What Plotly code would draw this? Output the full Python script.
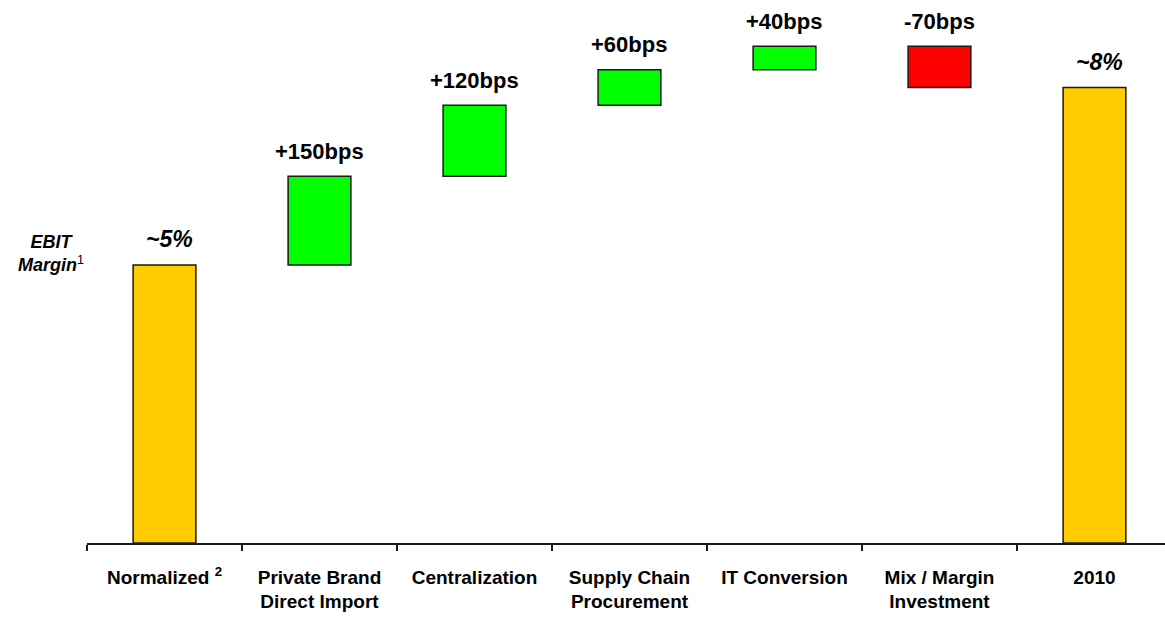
import plotly.graph_objects as go

# Margin bridge: starting level, drivers in basis points, ending level
categories = ["Normalized <sup>2</sup>", "Private Brand<br>Direct Import", "Centralization",
              "Supply Chain<br>Procurement", "IT Conversion", "Mix / Margin<br>Investment", "2010"]
start_margin = 4.7          # EBIT margin, %
driver_bps = [150, 120, 60, 40, -70]

GOLD, GREEN, RED = "#FFCC00", "#00FF00", "#FF0000"
FONT = "Liberation Sans, Arial, sans-serif"

# Build floating bars: base + height for every column
bases, heights, colors, labels = [], [], [], []
level = start_margin
bases.append(0); heights.append(start_margin); colors.append(GOLD)
labels.append(f"~{round(start_margin)}%")
for bps in driver_bps:
    delta = bps / 100.0
    bases.append(min(level, level + delta))
    heights.append(abs(delta))
    colors.append(GREEN if delta > 0 else RED)
    labels.append(f"{bps:+d}bps")
    level += delta
end_margin = level
bases.append(0); heights.append(end_margin); colors.append(GOLD)
labels.append(f"~{round(end_margin)}%")

xs = list(range(len(categories)))

fig = go.Figure(go.Bar(
    x=xs, y=heights, base=bases, width=0.405,
    marker=dict(color=colors, line=dict(color="#1a1a1a", width=1.5)),
    hoverinfo="skip",
))

annotations = []
for i, (b, h, lab) in enumerate(zip(bases, heights, labels)):
    top = b + h
    is_total = i in (0, len(categories) - 1)
    annotations.append(dict(
        x=i + (0.03 if is_total else 0), y=top, xref="x", yref="y",
        text=f"<b><i>{lab}</i></b>" if is_total else f"<b>{lab}</b>",
        showarrow=False, yanchor="middle", yshift=26 if is_total else 25,
        font=dict(family=FONT, size=23 if is_total else 22, color="black"),
    ))

# Axis caption to the left of the first bar
annotations.append(dict(
    x=-0.033, y=start_margin, xref="paper", yref="y",
    text="<b><i>EBIT</i></b><br><b><i>Margin</i></b><sup>1</sup>",
    showarrow=False, xanchor="center", yanchor="middle", yshift=11, align="center",
    font=dict(family=FONT, size=18, color="black"),
))

fig.update_layout(
    width=1165, height=618,
    margin=dict(l=87, r=0, t=0, b=75),
    paper_bgcolor="white", plot_bgcolor="white",
    showlegend=False,
    annotations=annotations,
    xaxis=dict(
        tickmode="array", tickvals=xs, ticktext=categories,
        range=[-0.5, 6.455],
        showline=True, linecolor="#1a1a1a", linewidth=1.5,
        ticks="", showgrid=False, zeroline=False,
        tickfont=dict(family=FONT, size=19, color="black", weight="bold"),
        ticklabelstandoff=16,
        # tick marks sit on the category boundaries
        minor=dict(tickvals=[x - 0.5 for x in xs], ticks="outside",
                   ticklen=6, tickwidth=1.5, tickcolor="#1a1a1a", showgrid=False),
    ),
    yaxis=dict(range=[0, 9.18], visible=False, showgrid=False, zeroline=False),
)

fig.write_html("out.html")
